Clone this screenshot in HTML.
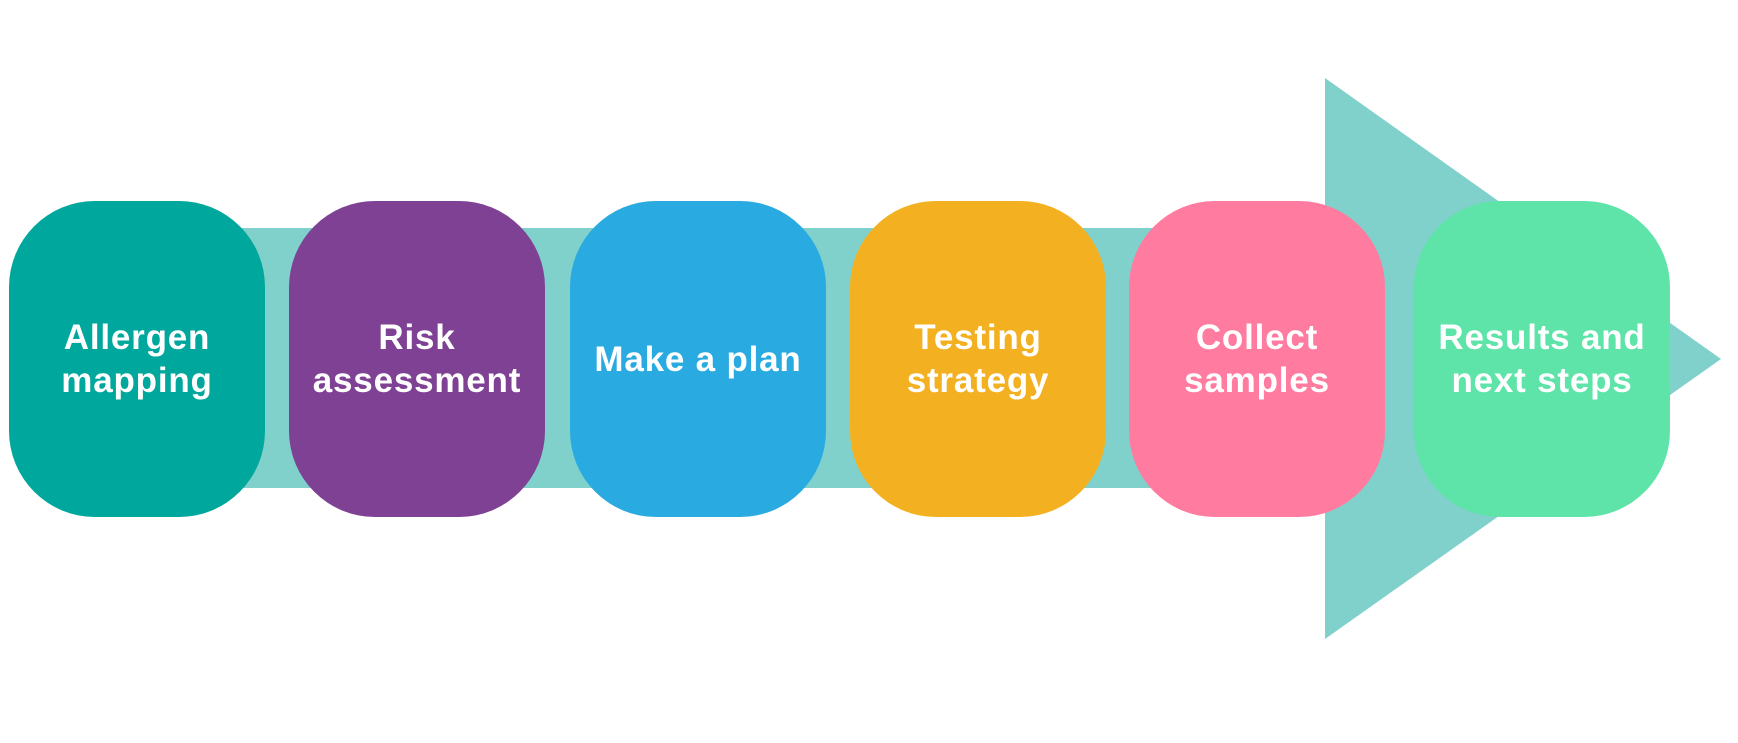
<!DOCTYPE html>
<html><head><style>
html,body{margin:0;padding:0;background:#fff;}
body{width:1738px;height:743px;position:relative;overflow:hidden;font-family:"Liberation Sans",sans-serif;}
.b{position:absolute;top:201px;width:256px;height:316px;border-radius:86px;display:flex;align-items:center;justify-content:center;text-align:center;color:#fff;font-weight:bold;font-size:35px;line-height:43px;letter-spacing:0.8px;}
</style></head><body>
<svg width="1738" height="743" style="position:absolute;left:0;top:0">
<rect x="240" y="228" width="1090" height="260" fill="#80D1CB"/>
<polygon points="1325,78 1721,359 1325,639" fill="#80D1CB"/>
</svg>
<div class="b" style="left:9px;background:#00A79D">Allergen<br>mapping</div>
<div class="b" style="left:289px;background:#7F4194">Risk<br>assessment</div>
<div class="b" style="left:570px;background:#29AAE1">Make a plan</div>
<div class="b" style="left:850px;background:#F3B122">Testing<br>strategy</div>
<div class="b" style="left:1129px;background:#FF7BA0">Collect<br>samples</div>
<div class="b" style="left:1414px;background:#5EE3A9">Results and<br>next steps</div>
</body></html>
